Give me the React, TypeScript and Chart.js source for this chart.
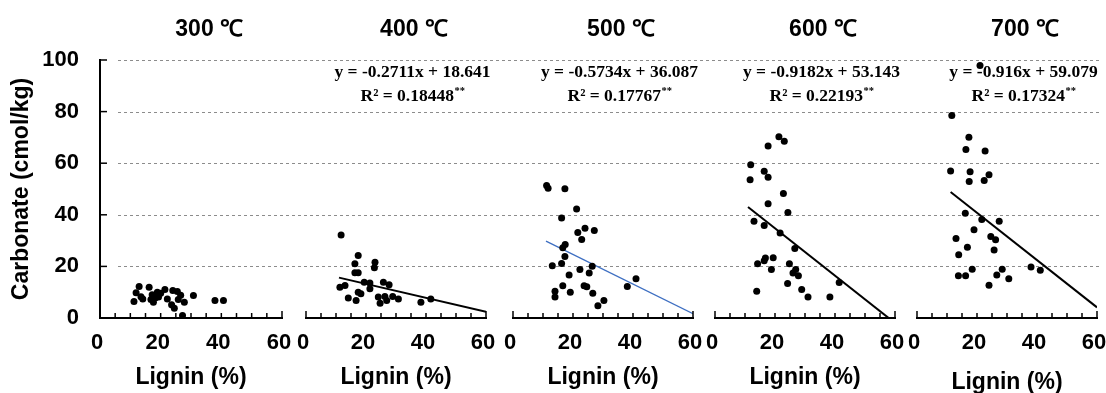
import React, { useEffect, useRef } from 'react';
import { Chart, registerables } from 'chart.js';

Chart.register(...registerables);

const panelTitles = ['300 ℃', '400 ℃', '500 ℃', '600 ℃', '700 ℃'];

const lignin300 = [12.9, 16.2, 11.9, 11.2, 14.1, 16.8, 17.6, 18.9, 19.3, 21.4, 22.2, 24.0, 25.5, 23.6, 24.5, 25.8, 27.8, 30.8, 27.2, 37.9, 40.7, 13.5, 17.2, 20.0, 26.6, 18.2];
const carb300 = [12.2, 11.9, 9.8, 6.4, 7.4, 7.2, 6.1, 10.0, 8.1, 11.0, 7.4, 10.7, 10.3, 5.1, 3.8, 7.2, 6.1, 8.7, 1.0, 6.8, 6.8, 8.2, 9.0, 9.6, 8.8, 7.8];

const lignin400 = [11.7, 17.4, 16.3, 23.0, 22.8, 16.3, 17.4, 19.4, 21.3, 25.8, 27.7, 21.3, 11.3, 13.0, 17.4, 18.3, 14.1, 16.7, 24.1, 24.7, 26.3, 26.9, 28.9, 30.8, 38.3, 41.6];
const carb400 = [32.2, 24.2, 21.0, 21.6, 19.5, 17.5, 17.5, 13.9, 13.6, 13.9, 12.9, 11.3, 11.9, 12.6, 10.0, 9.4, 7.8, 6.8, 8.1, 5.7, 8.3, 6.8, 8.3, 7.4, 6.1, 7.4];

const lignin500 = [11.2, 11.7, 17.3, 21.2, 16.2, 24.0, 21.6, 27.1, 22.9, 17.4, 16.6, 17.3, 13.1, 16.2, 26.4, 22.3, 25.4, 18.7, 41.0, 38.1, 16.6, 23.7, 24.6, 14.0, 19.1, 26.6, 14.0, 30.3, 28.3];
const carb500 = [51.4, 50.3, 50.1, 42.2, 38.8, 34.8, 33.1, 33.9, 30.4, 28.5, 27.2, 23.8, 20.3, 21.1, 20.1, 18.8, 17.4, 16.7, 15.2, 12.2, 12.5, 12.5, 12.1, 10.4, 10.0, 9.6, 8.1, 6.8, 4.7];

const lignin600 = [21.3, 23.1, 17.7, 11.9, 16.4, 17.7, 11.7, 22.8, 17.7, 24.3, 13.0, 16.4, 21.7, 26.6, 19.4, 16.8, 16.4, 14.2, 24.8, 18.8, 26.9, 26.0, 27.8, 24.2, 41.4, 13.9, 28.9, 31.0, 38.3];
const carb600 = [70.3, 68.5, 66.7, 59.4, 56.9, 54.6, 53.6, 48.3, 44.3, 40.9, 37.5, 35.9, 32.9, 26.9, 23.4, 23.3, 22.2, 21.0, 21.0, 18.8, 18.8, 17.4, 16.4, 13.4, 13.8, 10.4, 11.0, 8.1, 8.1];

const lignin700 = [21.0, 11.6, 17.3, 16.3, 22.7, 11.2, 17.7, 17.4, 24.0, 22.4, 16.1, 21.6, 27.4, 19.0, 13.0, 24.6, 26.2, 16.8, 25.7, 13.9, 13.8, 16.2, 18.4, 24.0, 26.6, 28.4, 30.6, 38.0, 41.1];
const carb700 = [97.9, 78.5, 70.1, 65.3, 64.7, 57.0, 56.7, 52.9, 55.5, 53.3, 40.6, 38.2, 37.5, 34.2, 30.8, 31.6, 30.3, 27.4, 26.4, 24.5, 16.4, 16.4, 18.9, 12.7, 16.7, 18.9, 15.2, 19.8, 18.5];

const ligninSets = [lignin300, lignin400, lignin500, lignin600, lignin700];
const carbSets = [carb300, carb400, carb500, carb600, carb700];

// regression (trendline) parameters shown in the picture
const slopes = [null, -0.2711, -0.5734, -0.9182, -0.916];
const intercepts = [null, 18.641, 36.087, 53.143, 59.079];
const r2Values = [null, '0.18448', '0.17767', '0.22193', '0.17324'];
const fitStart = [null, 11, 11, 11, 11.2];
const fitEnd = [null, 60, 60, 57.9, 60];
const fitColors = ['#000000', '#000000', '#3E6FC2', '#000000', '#000000'];
const fitWidths = [2, 2, 1.3, 2, 2];

const xLabelTicks = [0, 20, 40, 60];
const yLabelTicks = [0, 20, 40, 60, 80, 100];

// horizontal share of each panel and the gaps between them
const panelWeights = [182, 180, 180, 180, 180];
const gapWeights = [24, 27, 22, 22];

const SANS = '"Liberation Sans", Arial, Helvetica, sans-serif';
const SERIF = '"Liberation Serif", "Times New Roman", serif';

const gridPlugin = {
  id: 'dashedGrid',
  beforeDatasetsDraw(chart: any) {
    const ctx = chart.ctx;
    const ys = chart.scales.y;
    const area = chart.chartArea;
    ctx.save();
    ctx.strokeStyle = '#8c8c8c';
    ctx.lineWidth = 1;
    ctx.setLineDash([3, 3]);
    ys.ticks.forEach((t: any) => {
      if (t.value % 20 !== 0 || t.value <= 0) return;
      const y = Math.round(ys.getPixelForValue(t.value)) + 0.5;
      ctx.beginPath();
      ctx.moveTo(area.left + 18, y);
      ctx.lineTo(area.right + 4, y);
      ctx.stroke();
    });
    ctx.restore();
  },
};

const tickPlugin = {
  id: 'inwardTicks',
  afterDraw(chart: any) {
    const ctx = chart.ctx;
    const ys = chart.scales.y;
    ctx.save();
    ctx.strokeStyle = '#000';
    ctx.lineWidth = 1.5;
    ctx.setLineDash([]);
    ys.ticks.forEach((t: any) => {
      const y = ys.getPixelForValue(t.value);
      ctx.beginPath();
      ctx.moveTo(ys.right, y);
      ctx.lineTo(ys.right + (t.value % 20 === 0 ? 7 : 5), y);
      ctx.stroke();
    });
    panelTitles.forEach((_, i) => {
      const xs = chart.scales['x' + i];
      xs.ticks.forEach((t: any) => {
        const x = xs.getPixelForValue(t.value);
        const len = t.value === 0 || t.value === 60 ? 7 : 5;
        ctx.beginPath();
        ctx.moveTo(x, xs.top);
        ctx.lineTo(x, xs.top - len);
        ctx.stroke();
      });
    });
    ctx.restore();
  },
};

const annotatePlugin = {
  id: 'annotatePanels',
  afterDraw(chart: any) {
    const ctx = chart.ctx;
    const ys = chart.scales.y;
    ctx.save();
    ctx.fillStyle = '#000';
    panelTitles.forEach((t, i) => {
      const xs = chart.scales['x' + i];
      ctx.font = 'bold 23px ' + SANS;
      ctx.textAlign = 'center';
      ctx.textBaseline = 'middle';
      ctx.fillText(t, xs.getPixelForValue(36), 30);
      if (slopes[i] != null) {
        const cx = xs.getPixelForValue(35.5);
        ctx.font = 'bold 17.5px ' + SERIF;
        ctx.textAlign = 'center';
        ctx.fillText(`y = ${slopes[i]}x + ${intercepts[i]}`, cx, ys.getPixelForValue(95.2));
        const main = `R² = ${r2Values[i]}`;
        const w1 = ctx.measureText(main).width;
        ctx.font = 'bold 10.5px ' + SERIF;
        const w2 = ctx.measureText('**').width;
        const left = cx - (w1 + w2) / 2;
        const cy = ys.getPixelForValue(85.9);
        ctx.textAlign = 'left';
        ctx.font = 'bold 17.5px ' + SERIF;
        ctx.fillText(main, left, cy);
        ctx.font = 'bold 10.5px ' + SERIF;
        ctx.fillText('**', left + w1 + 0.5, cy - 5);
      }
    });
    ctx.restore();
  },
};

export default function App() {
  const ref = useRef<HTMLCanvasElement | null>(null);

  useEffect(() => {
    if (!ref.current) return;

    const datasets: any[] = [];
    ligninSets.forEach((xs, i) => {
      datasets.push({
        type: 'scatter',
        label: panelTitles[i],
        data: xs.map((x, k) => ({ x, y: carbSets[i][k] })),
        xAxisID: 'x' + i,
        yAxisID: 'y',
        backgroundColor: '#000',
        borderColor: '#000',
        pointRadius: 3.5,
        pointBorderWidth: 0,
        clip: false,
      });
      if (slopes[i] != null) {
        const s = slopes[i] as number;
        const b = intercepts[i] as number;
        const x0 = fitStart[i] as number;
        const x1 = fitEnd[i] as number;
        datasets.push({
          type: 'scatter',
          label: 'fit ' + panelTitles[i],
          data: [
            { x: x0, y: s * x0 + b },
            { x: x1, y: s * x1 + b },
          ],
          xAxisID: 'x' + i,
          yAxisID: 'y',
          showLine: true,
          borderColor: fitColors[i],
          borderWidth: fitWidths[i],
          pointRadius: 0,
        });
      }
    });

    const scales: any = {
      y: {
        type: 'linear',
        position: 'left',
        min: 0,
        max: 100,
        afterFit: (s: any) => {
          s.width = 100;
          s.paddingTop = 0;
          s.paddingBottom = 0;
        },
        ticks: {
          stepSize: 10,
          padding: 21,
          color: '#000',
          font: { family: SANS, size: 22, weight: 'bold' },
          callback: (v: any) => (yLabelTicks.includes(v) ? String(v) : ''),
        },
        grid: { display: false, drawTicks: false },
        border: { display: true, color: '#000', width: 2 },
        title: {
          display: true,
          text: 'Carbonate (cmol/kg)',
          color: '#000',
          font: { family: SANS, size: 23, weight: 'bold' },
          padding: { top: 8, bottom: 0 },
        },
      },
    };

    panelWeights.forEach((w, i) => {
      scales['x' + i] = {
        type: 'linear',
        axis: 'x',
        position: 'bottom',
        stack: 'panels',
        stackWeight: w,
        min: 0,
        max: 60,
        afterFit: (s: any) => {
          s.height = 75;
          s.paddingLeft = 0;
          s.paddingRight = 0;
        },
        ticks: {
          stepSize: 5,
          autoSkip: false,
          maxRotation: 0,
          padding: 12,
          labelOffset: -3,
          color: '#000',
          font: { family: SANS, size: 22, weight: 'bold' },
          callback: (v: any) => (xLabelTicks.includes(v) ? String(v) : ''),
        },
        grid: { display: false, drawTicks: false },
        border: { display: true, color: '#000', width: 2 },
        title: {
          display: true,
          text: 'Lignin (%)',
          color: '#000',
          font: { family: SANS, size: 23, weight: 'bold' },
          padding: { top: 0, bottom: i === 4 ? -3 : 2 },
        },
      };
      if (i < gapWeights.length) {
        scales['g' + i] = {
          type: 'linear',
          axis: 'x',
          position: 'bottom',
          stack: 'panels',
          stackWeight: gapWeights[i],
          display: false,
          min: 0,
          max: 1,
        };
      }
    });

    const chart = new Chart(ref.current, {
      type: 'scatter',
      data: { datasets },
      options: {
        animation: false,
        responsive: true,
        maintainAspectRatio: false,
        layout: { autoPadding: false, padding: { top: 60, right: 9, bottom: 0, left: 0 } },
        plugins: { legend: { display: false }, tooltip: { enabled: false } },
        scales,
      } as any,
      plugins: [gridPlugin, tickPlugin, annotatePlugin],
    });
    return () => chart.destroy();
  }, []);

  return (
    <div style={{ position: 'absolute', left: 0, top: 0, width: 1106, height: 393, background: '#fff' }}>
      <canvas ref={ref} />
    </div>
  );
}
